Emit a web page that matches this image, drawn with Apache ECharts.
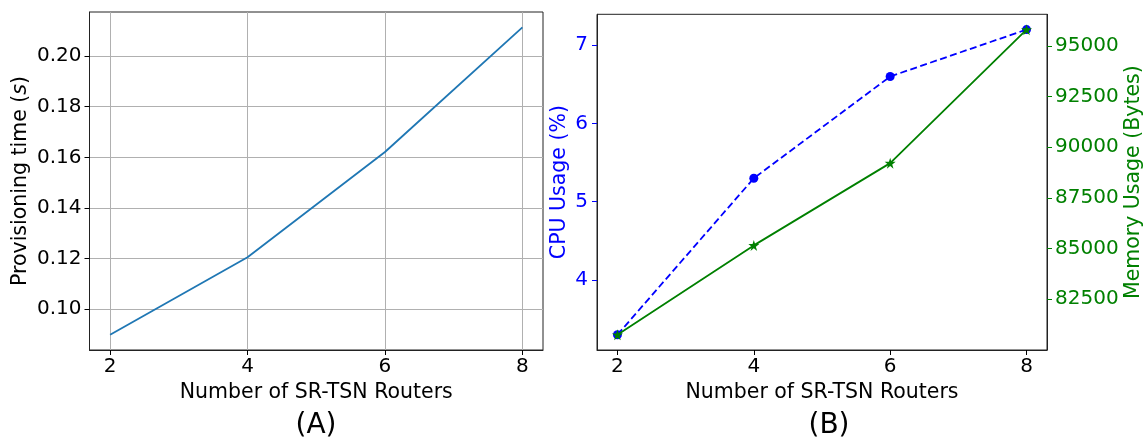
<!DOCTYPE html>
<html>
<head>
<meta charset="utf-8">
<script src="https://cdn.jsdelivr.net/npm/echarts@6/dist/echarts.min.js"></script>
<style>
html,body{margin:0;padding:0;background:#fff;}
#chart{width:1145px;height:442px;}
</style>
</head>
<body>
<div id="chart"></div>
<script>
// Data
const routers = [2, 4, 6, 8];
const provisioningTime = [0.0899, 0.1205, 0.1621, 0.2113];
const cpuUsage = [3.3, 5.3, 6.6, 7.2];
const memoryUsage = [80740, 85150, 89210, 95800];
// Tick labels
const xTicks = [2, 4, 6, 8];
const provTicks = [0.10, 0.12, 0.14, 0.16, 0.18, 0.20];
const cpuTicks = [4, 5, 6, 7];
const memTicks = [82500, 85000, 87500, 90000, 92500, 95000];

const FONT = 'DejaVu Sans';
const TICK_FS = 20;
const NAME_FS = 20.5;

function pairs(xs, ys) { return xs.map((x, i) => [x, ys[i]]); }

const chart = echarts.init(document.getElementById('chart'), null, {renderer: 'canvas'});

function xAx(grid) {
  return {
    type: 'value', gridIndex: grid, min: 1.7, max: 8.3,
    name: 'Number of SR-TSN Routers', nameLocation: 'middle', nameGap: 30,
    nameTextStyle: {fontFamily: FONT, fontSize: NAME_FS, color: '#000'},
    axisLine: {show: true, onZero: false, lineStyle: {color: '#222', width: 1}},
    axisTick: {show: true, length: 5, inside: false, customValues: xTicks, lineStyle: {color: '#000', width: 1}},
    axisLabel: {customValues: xTicks, fontFamily: FONT, fontSize: TICK_FS, color: '#000', margin: 7},
    splitLine: {show: grid === 0, lineStyle: {color: '#b0b0b0', width: 1}}
  };
}

const option = {
  animation: false,
  backgroundColor: '#fff',
  grid: [
    {left: 89.5, top: 12, width: 453.5, height: 338, show: true, borderColor: '#222', borderWidth: 1, containLabel: false},
    {left: 597, top: 14.3, width: 451, height: 335.7, show: true, borderColor: '#222', borderWidth: 1, containLabel: false}
  ],
  xAxis: [xAx(0), xAx(1)],
  yAxis: [
    {
      type: 'value', gridIndex: 0, min: 0.0839, max: 0.2174,
      name: 'Provisioning time ({i|s})', nameLocation: 'middle', nameGap: 58,
      nameTextStyle: {fontFamily: FONT, fontSize: NAME_FS, color: '#000',
        rich: {i: {fontFamily: FONT, fontSize: NAME_FS, fontStyle: 'italic', color: '#000'}}},
      axisLine: {show: true, lineStyle: {color: '#222', width: 1}},
      axisTick: {show: true, length: 5, customValues: provTicks, lineStyle: {color: '#000', width: 1}},
      axisLabel: {customValues: provTicks, fontFamily: FONT, fontSize: TICK_FS, color: '#000', margin: 8,
        formatter: v => v.toFixed(2)},
      splitLine: {show: true, lineStyle: {color: '#b0b0b0', width: 1}}
    },
    {
      type: 'value', gridIndex: 1, position: 'left', min: 3.105, max: 7.395,
      name: 'CPU Usage (%)', nameLocation: 'middle', nameGap: 27,
      nameTextStyle: {fontFamily: FONT, fontSize: NAME_FS, color: '#0000ff'},
      axisLine: {show: true, lineStyle: {color: '#222', width: 1}},
      axisTick: {show: true, length: 5, customValues: cpuTicks, lineStyle: {color: '#0000ff', width: 1}},
      axisLabel: {customValues: cpuTicks, fontFamily: FONT, fontSize: TICK_FS, color: '#0000ff', margin: 9},
      splitLine: {show: false}
    },
    {
      type: 'value', gridIndex: 1, position: 'right', min: 79986, max: 96557,
      name: 'Memory Usage (Bytes)', nameLocation: 'middle', nameGap: 76,
      nameTextStyle: {fontFamily: FONT, fontSize: NAME_FS, color: '#008000'},
      axisLine: {show: true, lineStyle: {color: '#222', width: 1}},
      axisTick: {show: true, length: 5, customValues: memTicks, lineStyle: {color: '#008000', width: 1}},
      axisLabel: {customValues: memTicks, fontFamily: FONT, fontSize: TICK_FS, color: '#008000', margin: 8,
        formatter: v => String(Math.round(v))},
      splitLine: {show: false}
    }
  ],
  graphic: [
    {type: 'text', style: {text: '(A)', x: 316, y: 426, align: 'center', verticalAlign: 'middle',
      font: '28px "DejaVu Sans"', fill: '#000'}},
    {type: 'text', style: {text: '(B)', x: 829, y: 426, align: 'center', verticalAlign: 'middle',
      font: '28px "DejaVu Sans"', fill: '#000'}}
  ],
  series: [
    {
      type: 'line', xAxisIndex: 0, yAxisIndex: 0, data: pairs(routers, provisioningTime),
      showSymbol: false, symbol: 'none', lineStyle: {color: '#1f77b4', width: 1.8}, z: 3
    },
    {
      type: 'line', xAxisIndex: 1, yAxisIndex: 1, data: pairs(routers, cpuUsage),
      symbol: 'circle', symbolSize: 9, itemStyle: {color: '#0000ff'},
      lineStyle: {color: '#0000ff', width: 1.8, type: [7, 3.5]}, z: 3
    },
    {
      type: 'line', xAxisIndex: 1, yAxisIndex: 2, data: pairs(routers, memoryUsage),
      symbol: 'path://M50,0 L61,35 L98,35 L68,57 L79,91 L50,70 L21,91 L32,57 L2,35 L39,35 Z',
      symbolSize: 11, itemStyle: {color: '#008000'},
      lineStyle: {color: '#008000', width: 1.8}, z: 4
    }
  ]
};
chart.setOption(option);
</script>
</body>
</html>
